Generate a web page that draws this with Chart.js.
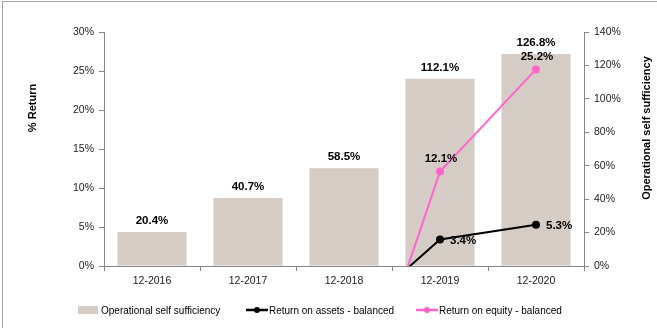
<!DOCTYPE html>
<html>
<head>
<meta charset="utf-8">
<script src="https://cdn.jsdelivr.net/npm/chart.js@4.4.1/dist/chart.umd.min.js"></script>
<style>
  html, body { margin: 0; padding: 0; background: #fff; }
  #wrap { position: relative; width: 657px; height: 328px; overflow: hidden; }
  #frame { position: absolute; left: 2px; top: 1px; right: -2px; bottom: -2px;
           border-top: 1px solid #a6a6a6; border-left: 1px solid #a6a6a6; }
  #chart { position: absolute; left: 0; top: 0; }
</style>
</head>
<body>
<div id="wrap">
  <div id="frame"></div>
  <canvas id="chart" width="657" height="328"></canvas>
</div>
<script>
// Portfolio returns vs. operational self sufficiency
const periods = ['12-2016', '12-2017', '12-2018', '12-2019', '12-2020'];
const selfSufficiency = [20.4, 40.7, 58.5, 112.1, 126.8];
const returnOnAssets = [null, null, -7.5, 3.4, 5.3];
const returnOnEquity = [null, null, -24.2, 12.1, 25.2];

const leftTicks = [0, 5, 10, 15, 20, 25, 30];
const rightTicks = [0, 20, 40, 60, 80, 100, 120, 140];

const FONT = '"Liberation Sans", Arial, sans-serif';
const AXIS = '#868686';

const pct = v => v + '%';

// value labels, axis titles and the legend
const annotate = {
    id: 'annotate',
    afterDatasetsDraw(chart) {
        const ctx = chart.ctx;
        ctx.save();
        ctx.fillStyle = '#000';
        ctx.font = 'bold 11.5px ' + FONT;
        chart.data.datasets.forEach((ds, i) => {
            const meta = chart.getDatasetMeta(i);
            meta.data.forEach((el, j) => {
                const v = ds.data[j];
                if (v === null || v < 0) return;
                const text = v.toFixed(1) + '%';
                if (ds.labelPos === 'right') {
                    ctx.textAlign = 'left';
                    ctx.textBaseline = 'middle';
                    ctx.fillText(text, el.x + 10, el.y + 1);
                } else if (ds.labelPos === 'above') {
                    ctx.textAlign = 'center';
                    ctx.textBaseline = 'middle';
                    ctx.fillText(text, el.x + 1, el.y - 13);
                } else {
                    ctx.textAlign = 'center';
                    ctx.textBaseline = 'middle';
                    ctx.fillText(text, el.x, el.y - 11);
                }
            });
        });
        ctx.restore();
    },
    afterDraw(chart) {
        const ctx = chart.ctx;
        ctx.save();
        ctx.fillStyle = '#000';
        ctx.font = 'bold 11px ' + FONT;
        ctx.textAlign = 'center';
        ctx.textBaseline = 'middle';
        [['% Return', 33, 108], ['Operational self sufficiency', 647, 128]].forEach(([t, x, y]) => {
            ctx.save();
            ctx.translate(x, y);
            ctx.rotate(-Math.PI / 2);
            ctx.fillText(t, 0, 0);
            ctx.restore();
        });

        // legend
        const ly = 310;
        const starts = [78, 246, 416];
        ctx.font = '10px ' + FONT;
        ctx.textAlign = 'left';
        chart.data.datasets.forEach((ds, i) => {
            const x = starts[i];
            if (ds.type === 'bar') {
                ctx.fillStyle = ds.backgroundColor;
                ctx.fillRect(x, ly - 4, 20, 8);
            } else {
                ctx.strokeStyle = ds.borderColor;
                ctx.lineWidth = 2.5;
                ctx.beginPath();
                ctx.moveTo(x, ly);
                ctx.lineTo(x + 22, ly);
                ctx.stroke();
                ctx.fillStyle = ds.borderColor;
                ctx.beginPath();
                ctx.arc(x + 11, ly, 3, 0, Math.PI * 2);
                ctx.fill();
            }
            ctx.fillStyle = '#000';
            ctx.fillText(ds.label, x + (ds.type === 'bar' ? 23 : 23), ly + 1);
        });
        ctx.restore();
    }
};

const tickFont = { family: FONT, size: 10.5 };

new Chart(document.getElementById('chart'), {
    data: {
        labels: periods,
        datasets: [
            {
                type: 'bar',
                label: 'Operational self sufficiency',
                data: selfSufficiency,
                yAxisID: 'yR',
                backgroundColor: '#d5ccc6',
                categoryPercentage: 1,
                barPercentage: 0.72,
                order: 3
            },
            {
                type: 'line',
                label: 'Return on assets - balanced',
                data: returnOnAssets,
                yAxisID: 'yL',
                borderColor: '#000',
                backgroundColor: '#000',
                borderWidth: 2,
                pointRadius: 3,
                labelPos: 'right',
                order: 1
            },
            {
                type: 'line',
                label: 'Return on equity - balanced',
                data: returnOnEquity,
                yAxisID: 'yL',
                borderColor: '#ff66cc',
                backgroundColor: '#ff66cc',
                borderWidth: 2,
                pointRadius: 3,
                labelPos: 'above',
                order: 2
            }
        ]
    },
    options: {
        responsive: false,
        animation: false,
        layout: { padding: { top: 32, left: 0, right: 0, bottom: 0 } },
        plugins: {
            legend: { display: false },
            tooltip: { enabled: false }
        },
        scales: {
            x: {
                grid: { display: true, drawOnChartArea: false, tickLength: 5, color: AXIS, offset: true },
                border: { color: AXIS },
                ticks: { font: tickFont, color: '#222', padding: 4, maxRotation: 0 },
                afterFit: s => { s.height = 62; }
            },
            yL: {
                position: 'left',
                min: 0,
                max: 30,
                afterBuildTicks: s => { s.ticks = leftTicks.map(v => ({ value: v })); },
                ticks: { font: tickFont, color: '#222', padding: 5, callback: pct },
                grid: { drawOnChartArea: false, tickLength: 5, color: AXIS },
                border: { color: AXIS },
                afterFit: s => { s.width = 104; }
            },
            yR: {
                position: 'right',
                min: 0,
                max: 140,
                afterBuildTicks: s => { s.ticks = rightTicks.map(v => ({ value: v })); },
                ticks: { font: tickFont, color: '#222', padding: 5, callback: pct },
                grid: { drawOnChartArea: false, tickLength: 5, color: AXIS },
                border: { color: AXIS },
                afterFit: s => { s.width = 73; }
            }
        }
    },
    plugins: [annotate]
});
</script>
</body>
</html>
